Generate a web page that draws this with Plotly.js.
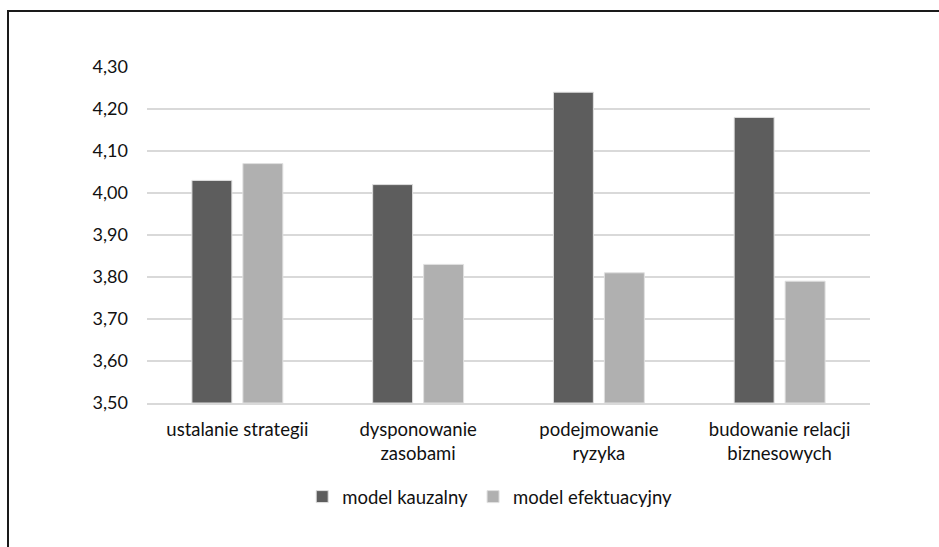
<!DOCTYPE html>
<html>
<head>
<meta charset="utf-8">
<script src="https://cdn.plot.ly/plotly-3.0.1.min.js"></script>
<style>
  html, body { margin: 0; padding: 0; background: #fff; overflow: hidden; }
  #chart { width: 939px; height: 547px; }
  #frame { position: absolute; left: 7px; top: 10px; width: 1000px; height: 600px;
           border-left: 2px solid #1a1a1a; border-top: 2px solid #1a1a1a; pointer-events: none; }
</style>
</head>
<body>
<div id="chart"></div>
<div id="frame"></div>
<script>
const categories = ["ustalanie strategii", "dysponowanie<br>zasobami", "podejmowanie<br>ryzyka", "budowanie relacji<br>biznesowych"];
const seriesNames = ["model kauzalny", "model efektuacyjny"];
const kauzalny = [4.03, 4.02, 4.24, 4.18];
const efektuacyjny = [4.07, 3.83, 3.81, 3.79];
const yTicks = [3.5, 3.6, 3.7, 3.8, 3.9, 4.0, 4.1, 4.2, 4.3];
const yMin = 3.5, yMax = 4.3;

const font = "Lato, 'Open Sans', sans-serif";
const traces = [
  { type: 'bar', name: seriesNames[0], x: categories, y: kauzalny.map(v => v - yMin), base: yMin,
    marker: { color: '#5d5d5d', line: { color: '#e0e0e0', width: 1 } }, hoverinfo: 'skip' },
  { type: 'bar', name: seriesNames[1], x: categories, y: efektuacyjny.map(v => v - yMin), base: yMin,
    marker: { color: '#b0b0b0', line: { color: '#e0e0e0', width: 1 } }, hoverinfo: 'skip' }
];

const layout = {
  width: 939, height: 547,
  margin: { l: 147, r: 69, t: 67, b: 144 },
  paper_bgcolor: '#fff', plot_bgcolor: '#fff',
  separators: ', ',
  font: { family: font, size: 18.5, color: '#111' },
  barmode: 'group', bargap: 0.436, bargroupgap: 0.216,
  showlegend: true,
  legend: { orientation: 'h', x: 0.474, xanchor: 'center', y: -0.28, yanchor: 'middle',
            font: { family: font, size: 18.5, color: '#111' }, itemwidth: 30, traceorder: 'normal' },
  xaxis: { type: 'category', showgrid: false, showline: true, linecolor: '#d9d9d9', linewidth: 1.5,
           ticks: '', ticklabelstandoff: 9, tickfont: { family: font, size: 18.5, color: '#111' } },
  yaxis: { range: [yMin, yMax], tickvals: yTicks, tickformat: '.2f', showgrid: true,
           gridcolor: '#d9d9d9', gridwidth: 1.5, zeroline: false, showline: false, ticks: '',
           ticklabelstandoff: 18, tickfont: { family: font, size: 18, color: '#111' } }
};
Plotly.newPlot('chart', traces, layout, { displayModeBar: false, staticPlot: true });
</script>
</body>
</html>
